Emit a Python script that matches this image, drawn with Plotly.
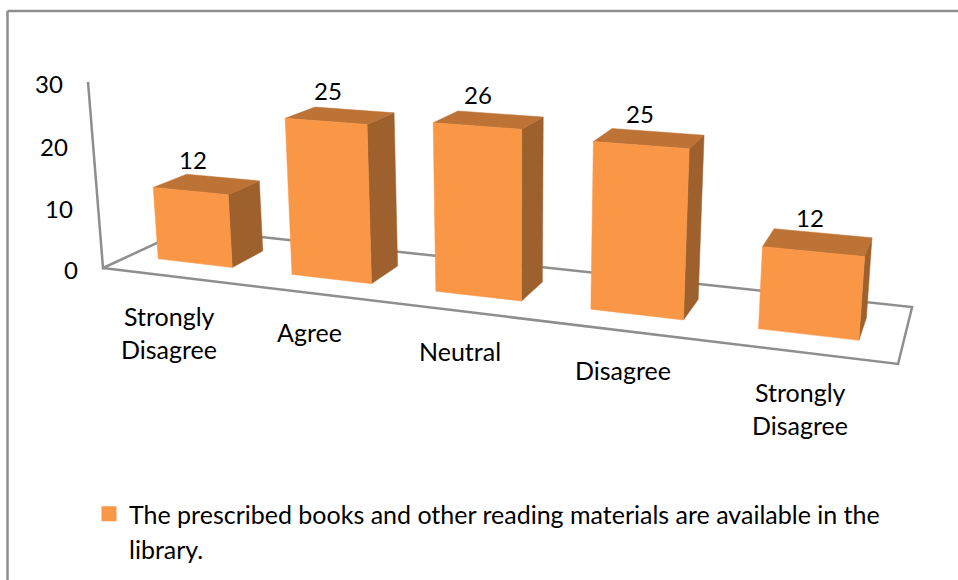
import plotly.graph_objects as go

categories = ["Strongly<br>Disagree", "Agree", "Neutral", "Disagree", "Strongly<br>Disagree"]
values = [12, 25, 26, 25, 12]
z_ticks = [0, 10, 20, 30]
series_name = "The prescribed books and other reading materials are available in the"
series_name_line2 = "library."

FONT = "Lato"
FRONT, TOP, SIDE = "#FA9747", "#BD7335", "#9E602C"
GREY = "#8E8E8E"

# Pinhole camera of the 3-D chart: vanishing points of the three chart axes
VX, VY, VZ, ORIGIN = (-3535, -171), (1027, -160), (515, 5384), (103, 268)
KX, KY, KZ = -0.03587, 0.1, -0.0351 / 30
GAP, DEPTH, STEP = 0.22, 0.30, 0.996


def project(x, y, z):
    u, v, t = KX * x, KY * y, KZ * z
    w = 1 + u + v + t
    return ((u * VX[0] + v * VY[0] + t * VZ[0] + ORIGIN[0]) / w,
            (u * VX[1] + v * VY[1] + t * VZ[1] + ORIGIN[1]) / w)


def poly(points, color):
    xy = [project(*p) for p in points + points[:1]]
    return go.Scatter(x=[a for a, _ in xy], y=[b for _, b in xy], mode="lines", fill="toself",
                      fillcolor=color, line=dict(color=color, width=0.5),
                      hoverinfo="skip", showlegend=False)


fig = go.Figure()

# floor and value axis
n = len(categories)
outline = [(0, 0, z_ticks[-1]), (0, 0, 0), (0, 1, 0), (n, 1, 0), (n, 0, 0), (0, 0, 0)]
xy = [project(*p) for p in outline]
fig.add_trace(go.Scatter(x=[a for a, _ in xy], y=[b for _, b in xy], mode="lines",
                         line=dict(color=GREY, width=2.5), hoverinfo="skip", showlegend=False))

# bars
for i, val in enumerate(values):
    x0, x1 = i * STEP + GAP, i * STEP + 1 - GAP
    y0, y1 = DEPTH, 1 - DEPTH
    fig.add_trace(poly([(x1, y0, 0), (x1, y1, 0), (x1, y1, val), (x1, y0, val)], SIDE))
    fig.add_trace(poly([(x0, y0, val), (x1, y0, val), (x1, y1, val), (x0, y1, val)], TOP))
    fig.add_trace(poly([(x0, y0, 0), (x1, y0, 0), (x1, y0, val), (x0, y0, val)], FRONT))

# legend entry
fig.add_trace(go.Scatter(x=[None], y=[None], mode="markers", name=series_name,
                         marker=dict(symbol="square", size=15, color=FRONT)))


def label(x, y, text, size=25, anchor="center"):
    fig.add_annotation(x=x, y=y, text=text, showarrow=False, xanchor=anchor, yanchor="middle",
                       font=dict(family=FONT, size=size, color="#000000"))


for val in z_ticks:
    px, py = project(0, 0, val)
    label(px - 23, py + 1.5, str(val), size=24, anchor="right")

for i, val in enumerate(values):
    px, py = project(i * STEP + 0.5, 0.5, val)
    label(px - 14 + 1.6 * i, py - 25, str(val), size=24)

for i, cat in enumerate(categories):
    px, py = project(i * STEP + 0.5, 0, 0)
    lines = cat.split("<br>")
    for k, line in enumerate(lines):
        label(px, py + 39.5 + k * 33, line)

label(127, 549, series_name_line2, anchor="left")

frame = dict(type="line", xref="x", yref="y", line=dict(color=GREY, width=2.5))
fig.update_layout(
    width=958, height=580, autosize=False, margin=dict(l=0, r=0, t=0, b=0),
    paper_bgcolor="white", plot_bgcolor="white",
    xaxis=dict(range=[0, 958], visible=False, fixedrange=True),
    yaxis=dict(range=[580, 0], visible=False, fixedrange=True),
    showlegend=True,
    legend=dict(x=89 / 958, y=1 - 491 / 580, xanchor="left", yanchor="top", bgcolor="rgba(0,0,0,0)",
                font=dict(family=FONT, size=25, color="#000000")),
    shapes=[dict(frame, x0=7.5, y0=580, x1=7.5, y1=11), dict(frame, x0=7.5, y0=11, x1=958, y1=11)],
)
fig.write_html("out.html", config={"displayModeBar": False},
               post_script="document.body.style.margin='0';")
